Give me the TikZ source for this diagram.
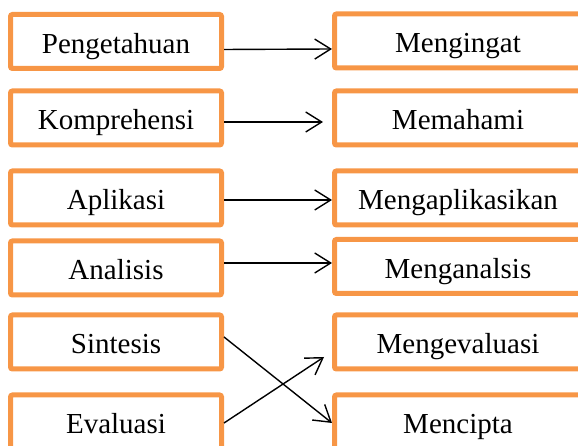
\documentclass[tikz,border=0pt]{standalone}
\usepackage{fontspec}
\setmainfont{Liberation Serif}
\usetikzlibrary{arrows.meta}
\definecolor{boxorange}{HTML}{F79646}
\tikzset{
  oldbox/.style={draw=boxorange, line width=5pt, rounded corners=2pt,
    minimum width=211pt, minimum height=54pt, inner sep=0pt,
    text height=24pt, text depth=0pt, font=\fontsize{29}{34}\selectfont},
  newbox/.style={oldbox, minimum width=247pt},
  link/.style={->, line width=1.4pt}
}
\begin{document}
\begin{tikzpicture}[x=1pt, y=1pt, >={Straight Barb[length=16pt,width=20pt]}]
\useasboundingbox (0,0) rectangle (578,446);
\clip (0,0) rectangle (578,446);

% old taxonomy (left column)
\foreach \nm/\txt/\y in {pe/Pengetahuan/404.5, ko/Komprehensi/328,
  ap/Aplikasi/248, an/Analisis/178, si/Sintesis/104, ev/Evaluasi/24}
{
  \node[oldbox] (\nm) at (116,\y) {\txt};
}

% revised taxonomy (right column, cut at the page edge)
\foreach \nm/\txt/\y in {mi/Mengingat/405, me/Memahami/328,
  mp/Mengaplikasikan/248, mn/Menganalsis/179.5, mv/Mengevaluasi/104,
  mc/Mencipta/24}
{
  \node[newbox] (\nm) at (458,\y) {\txt};
}

\draw[link] ([yshift=-8pt]pe.east) -- ([yshift=-8pt]mi.west);
\draw[link, shorten >=9pt] ([yshift=-4pt]ko.east) -- ([yshift=-4pt]me.west);
\draw[link] ([yshift=-2pt]ap.east) -- ([yshift=-2pt]mp.west);
\draw[link] ([yshift=5pt]an.east) -- ([yshift=3.5pt]mn.west);
\draw[link] ([yshift=5pt]si.east) -- ([yshift=-1pt]mc.west);
\draw[link] ([yshift=-1pt]ev.east) -- ([xshift=-8pt,yshift=-15pt]mv.west);
\end{tikzpicture}
\end{document}
